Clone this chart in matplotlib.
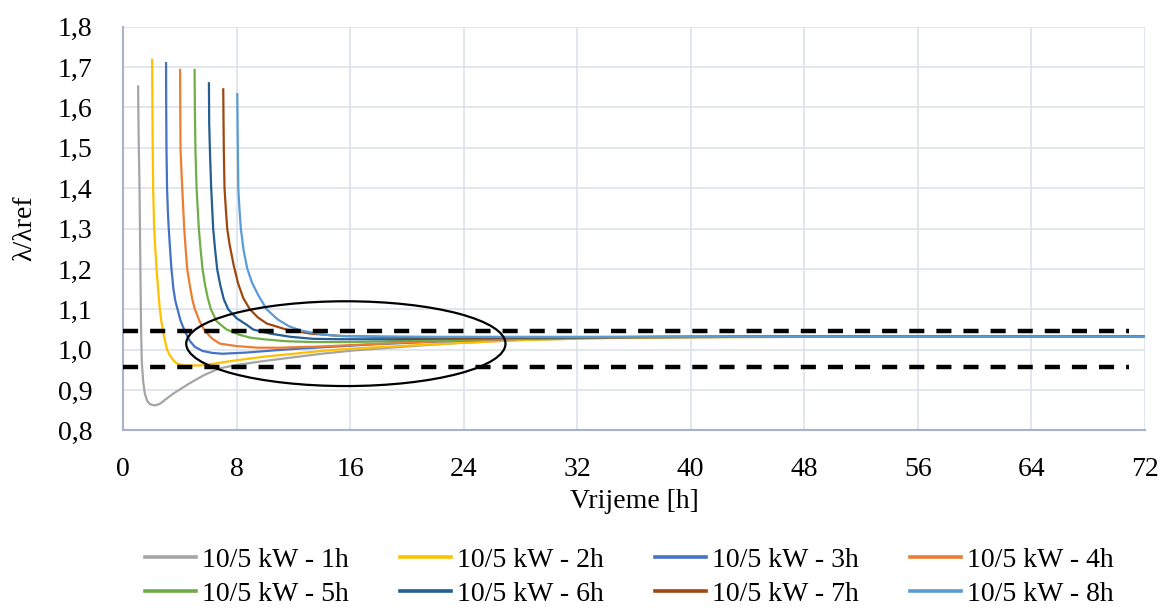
import matplotlib
matplotlib.use("Agg")
import matplotlib.pyplot as plt
from matplotlib.patches import Ellipse
from matplotlib.ticker import FuncFormatter, MultipleLocator

plt.rcParams['font.family'] = ['Liberation Serif', 'DejaVu Serif']

# series: time [h] and lambda/lambda_ref
t_1h = [1.06, 1.09, 1.12, 1.16, 1.22, 1.27, 1.32, 1.42, 1.53, 1.7, 1.9, 2.24, 2.6, 3.0, 3.53, 4.1, 4.7, 5.7, 6.8, 8, 9.5, 11.5, 14, 16.2, 20, 23.3, 28, 34, 40, 50, 60, 72]
y_1h = [1.652, 1.55, 1.48, 1.4, 1.2, 1.05, 0.97, 0.92, 0.892, 0.873, 0.865, 0.862, 0.866, 0.877, 0.891, 0.904, 0.917, 0.937, 0.954, 0.962, 0.97, 0.979, 0.99, 0.998, 1.008, 1.016, 1.024, 1.029, 1.031, 1.032, 1.032, 1.032]

t_2h = [2.05, 2.07, 2.09, 2.12, 2.19, 2.27, 2.36, 2.47, 2.59, 2.7, 2.82, 2.95, 3.1, 3.27, 3.45, 3.62, 3.8, 4.05, 4.3, 5.4, 6.5, 8, 10, 12, 14, 16.2, 20, 23.3, 28, 34, 40, 50, 60, 72]
y_2h = [1.718, 1.6, 1.495, 1.4, 1.3, 1.25, 1.2, 1.15, 1.1, 1.07, 1.046, 1.022, 1.0, 0.988, 0.978, 0.971, 0.966, 0.963, 0.961, 0.961, 0.966, 0.974, 0.983, 0.99, 0.997, 1.003, 1.01, 1.016, 1.024, 1.029, 1.031, 1.032, 1.032, 1.032]

t_3h = [3.03, 3.04, 3.06, 3.1, 3.16, 3.22, 3.31, 3.41, 3.55, 3.69, 3.84, 4.05, 4.35, 4.7, 5.06, 5.6, 6.3, 7, 8.7, 10.5, 12.5, 15, 18, 22, 26, 30, 36, 44, 56, 72]
y_3h = [1.710, 1.6, 1.495, 1.4, 1.34, 1.3, 1.25, 1.2, 1.15, 1.12, 1.1, 1.072, 1.046, 1.022, 1.007, 0.997, 0.992, 0.99, 0.993, 0.998, 1.003, 1.008, 1.014, 1.02, 1.025, 1.028, 1.031, 1.032, 1.032, 1.032]

t_4h = [4.02, 4.03, 4.05, 4.17, 4.24, 4.31, 4.41, 4.52, 4.7, 4.88, 5.06, 5.4, 5.77, 6.3, 6.82, 8, 9.5, 11, 14, 17, 20, 24, 28, 34, 44, 56, 72]
y_4h = [1.693, 1.6, 1.495, 1.4, 1.35, 1.3, 1.25, 1.2, 1.16, 1.125, 1.1, 1.07, 1.046, 1.027, 1.015, 1.009, 1.005, 1.005, 1.008, 1.013, 1.018, 1.023, 1.027, 1.03, 1.032, 1.032, 1.032]

t_5h = [5.04, 5.06, 5.1, 5.18, 5.26, 5.34, 5.46, 5.6, 5.78, 5.97, 6.19, 6.6, 7.3, 8.2, 8.94, 9.88, 11.5, 13.4, 16, 19, 23, 28, 34, 44, 56, 72]
y_5h = [1.693, 1.6, 1.495, 1.4, 1.35, 1.3, 1.25, 1.2, 1.16, 1.128, 1.1, 1.07, 1.05, 1.037, 1.03, 1.026, 1.021, 1.019, 1.019, 1.021, 1.024, 1.028, 1.031, 1.032, 1.032, 1.032]

t_6h = [6.05, 6.07, 6.12, 6.21, 6.28, 6.35, 6.48, 6.63, 6.85, 7.1, 7.41, 8.0, 8.7, 9.17, 10.35, 11.8, 13.4, 15.3, 19, 24, 30, 38, 50, 72]
y_6h = [1.66, 1.56, 1.495, 1.4, 1.35, 1.3, 1.25, 1.2, 1.16, 1.125, 1.1, 1.078, 1.062, 1.05, 1.04, 1.032, 1.027, 1.026, 1.026, 1.028, 1.03, 1.032, 1.032, 1.032]

t_7h = [7.06, 7.08, 7.1, 7.15, 7.24, 7.34, 7.5, 7.65, 7.81, 8.1, 8.47, 8.94, 9.5, 10.12, 11.5, 13.2, 15.3, 19, 24, 30, 40, 50, 72]
y_7h = [1.645, 1.56, 1.495, 1.4, 1.35, 1.3, 1.262, 1.235, 1.207, 1.165, 1.128, 1.1, 1.08, 1.065, 1.05, 1.04, 1.034, 1.031, 1.03, 1.031, 1.032, 1.032, 1.032]

t_8h = [8.05, 8.07, 8.09, 8.12, 8.2, 8.3, 8.5, 8.76, 9.1, 9.53, 10.12, 10.9, 11.7, 12.47, 14, 15.3, 18, 22, 28, 36, 48, 60, 72]
y_8h = [1.633, 1.56, 1.495, 1.4, 1.35, 1.3, 1.245, 1.2, 1.165, 1.135, 1.1, 1.075, 1.058, 1.048, 1.038, 1.034, 1.033, 1.032, 1.032, 1.032, 1.032, 1.032, 1.032]

labels = ['10/5 kW - 1h', '10/5 kW - 2h', '10/5 kW - 3h', '10/5 kW - 4h',
          '10/5 kW - 5h', '10/5 kW - 6h', '10/5 kW - 7h', '10/5 kW - 8h']
colors = ['#A5A5A5', '#FFC000', '#4472C4', '#ED7D31',
          '#70AD47', '#255E91', '#9E480E', '#5B9BD5']

# tolerance band (dashed lines)
band_upper = 1.046
band_lower = 0.957
band_end = 70.9

series = [(t_1h, y_1h), (t_2h, y_2h), (t_3h, y_3h), (t_4h, y_4h),
          (t_5h, y_5h), (t_6h, y_6h), (t_7h, y_7h), (t_8h, y_8h)]

fig = plt.figure(figsize=(11.61, 6.08), dpi=100)
ax = fig.add_axes([0.106, 0.292, 0.880, 0.664])

handles = []
for (t, y), lab, c in zip(series, labels, colors):
    h, = ax.plot(t, y, color=c, lw=1.6, label=lab, zorder=3,
                 solid_joinstyle='round')
    handles.append(h)

for yv in (band_upper, band_lower):
    ax.plot([0, band_end], [yv, yv], color='black', lw=3.2,
            linestyle=(0, (3.4, 2.7)), zorder=4)

ax.add_patch(Ellipse((15.7, 1.015), 22.5, 0.21, fill=False,
                     edgecolor='black', lw=1.6, zorder=5))

ax.set_xlim(0, 72)
ax.set_ylim(0.8, 1.8)
ax.xaxis.set_major_locator(MultipleLocator(8))
ax.yaxis.set_major_locator(MultipleLocator(0.1))
ax.yaxis.set_major_formatter(FuncFormatter(lambda v, p: f"{v:.1f}".replace('.', ',')))

ax.grid(True, color='#DDE2EA', lw=1.2, zorder=0)
ax.set_axisbelow(True)
for s in ['top', 'right']:
    ax.spines[s].set_visible(False)
for s in ['left', 'bottom']:
    ax.spines[s].set_color('#A9B3C7')
    ax.spines[s].set_linewidth(1.5)
ax.tick_params(length=0, labelsize=20)
ax.tick_params(axis='x', pad=19)
ax.tick_params(axis='y', pad=22)

ax.set_xlabel('Vrijeme [h]', fontsize=20, labelpad=5)
ax.set_ylabel('λ/λref', fontsize=20, labelpad=15)

# legend filled row by row like the original
order = [0, 4, 1, 5, 2, 6, 3, 7]
leg = fig.legend([handles[i] for i in order], [labels[i] for i in order],
                 loc='center', bbox_to_anchor=(0.542, 0.051), ncol=4,
                 frameon=False, fontsize=20, handlelength=1.85, handletextpad=0.2,
                 columnspacing=1.85, labelspacing=0.3)
for lh in leg.get_lines():
    lh.set_linewidth(2.6)

fig.savefig('out.png', dpi=100)
